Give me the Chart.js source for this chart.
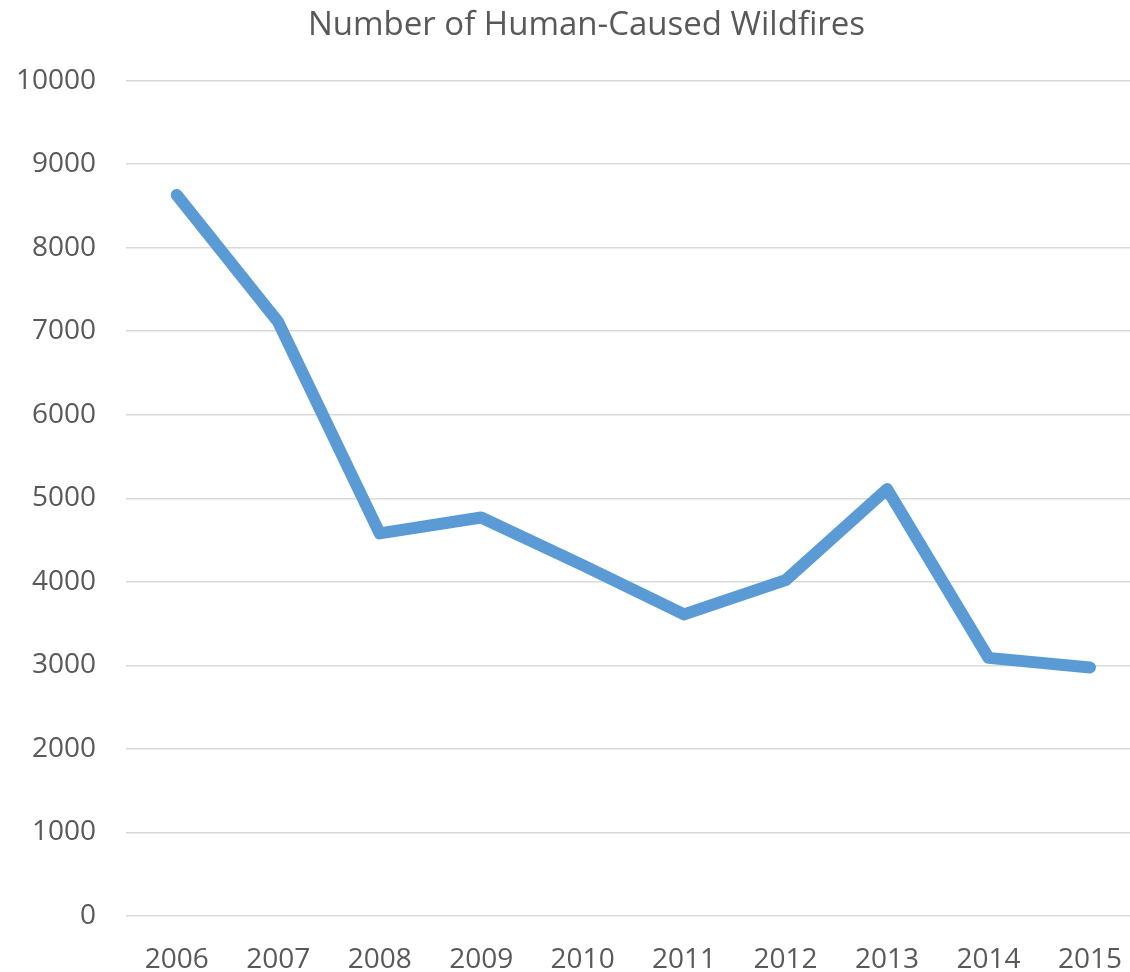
<!DOCTYPE html>
<html>
<head>
<meta charset="utf-8">
<script src="https://cdn.jsdelivr.net/npm/chart.js@4.4.1/dist/chart.umd.min.js"></script>
<style>
  html, body { margin: 0; padding: 0; background: #fff; overflow: hidden; }
  #wrap { width: 1149px; height: 972px; position: relative; }
</style>
</head>
<body>
<div id="wrap"><canvas id="line_chart"></canvas></div>
<script>
// yearly counts of human-caused wildfires
var years = ["2006", "2007", "2008", "2009", "2010", "2011", "2012", "2013", "2014", "2015"];
var fires = [8630, 7110, 4580, 4770, 4200, 3610, 4020, 5110, 3090, 2975];
var yTicks = [0, 1000, 2000, 3000, 4000, 5000, 6000, 7000, 8000, 9000, 10000];

var textColor = "#595959";
var fontName = "'Open Sans', 'Noto Sans', sans-serif";

// nudge the title a bit right so it sits over the plot, not the whole canvas
var titleShift = {
    id: "titleShift",
    afterLayout: function(chart) {
        if (chart.titleBlock) {
            chart.titleBlock.left = 24;
        }
    }
};

var ctx = document.getElementById("line_chart").getContext("2d");
var myChart = new Chart(ctx, {
    type: "line",
    data: {
        labels: years,
        datasets: [{
            label: "Human-Caused Wildfires",
            data: fires,
            borderColor: "#5B9BD5",
            backgroundColor: "#5B9BD5",
            borderWidth: 12,
            borderCapStyle: "round",
            borderJoinStyle: "round",
            pointRadius: 0,
            pointHoverRadius: 0,
            tension: 0,
            fill: false
        }]
    },
    options: {
        responsive: true,
        maintainAspectRatio: false,
        animation: false,
        layout: { padding: { left: 0, top: 6, right: 0, bottom: 0 } },
        plugins: {
            legend: { display: false },
            tooltip: { enabled: false },
            title: {
                display: true,
                text: "Number of Human-Caused Wildfires",
                color: textColor,
                font: { family: fontName, size: 33, weight: "normal" },
                padding: { top: 0, bottom: 35 }
            }
        },
        scales: {
            x: {
                offset: true,
                grid: { display: false, drawTicks: false },
                border: { display: false },
                ticks: {
                    color: textColor,
                    font: { family: fontName, size: 28 },
                    padding: 27,
                    maxRotation: 0,
                    autoSkip: false
                },
                afterFit: function(scale) { scale.height = 56; }
            },
            y: {
                min: 0,
                max: 10000,
                afterBuildTicks: function(scale) {
                    scale.ticks = yTicks.map(function(v) { return { value: v }; });
                },
                grid: { color: "#D9D9D9", lineWidth: 1.5, drawTicks: false },
                border: { display: false },
                ticks: {
                    color: textColor,
                    font: { family: fontName, size: 28 },
                    padding: 30,
                    callback: function(value) { return String(value); }
                },
                afterFit: function(scale) { scale.width = 126; }
            }
        }
    },
    plugins: [titleShift]
});
</script>
</body>
</html>
